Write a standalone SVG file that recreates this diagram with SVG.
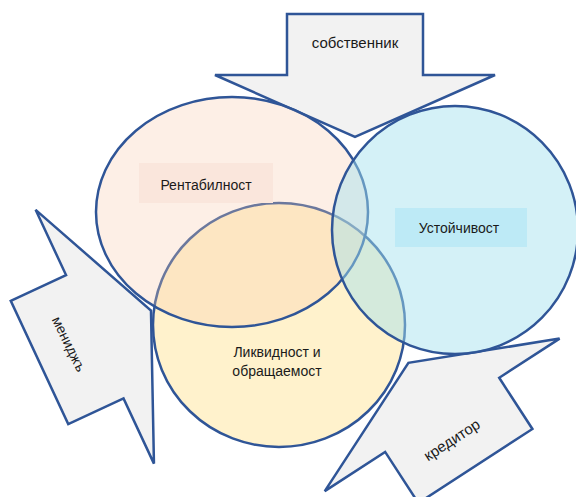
<svg xmlns="http://www.w3.org/2000/svg" width="576" height="497" viewBox="0 0 576 497">
<defs>
<style>
.arr{fill:#f2f2f2;stroke:#2f5597;stroke-width:2.5;stroke-linejoin:miter}
.ell{stroke:#2f5597;stroke-width:2.5}
.t{font-family:"Liberation Sans","Noto Sans",Arial,sans-serif;fill:#1a1a1a;text-anchor:middle}
</style>
<path id="blk" d="M0,-68 L61,-68 L61,-140 L123,0 L61,140 L61,68 L0,68 Z"/>
</defs>
<rect width="576" height="497" fill="#ffffff"/>
<g id="arrow-sobstvenik">
<use href="#blk" class="arr" transform="translate(355,14) rotate(90)"/>
<text class="t" x="355" y="48" font-size="15">собственник</text>
</g>
<g id="arrow-menidzh">
<use href="#blk" class="arr" transform="translate(39.5,362.5) rotate(-25)"/>
<text class="t" font-size="14" transform="translate(69,344) rotate(64)" y="5">мениджъ</text>
</g>
<g id="arrow-kreditor">
<use href="#blk" class="arr" transform="translate(475.4,466) rotate(-123)"/>
<text class="t" font-size="15" transform="translate(452,440) rotate(-33)" y="5">кредитор</text>
</g>
<g id="likvidnost">
<ellipse class="ell" cx="279" cy="325" rx="126" ry="122" fill="#fff2cc"/>
</g>
<g id="rentabilnost">
<ellipse class="ell" cx="232" cy="212" rx="136" ry="115" fill="#f8cbad" fill-opacity="0.3"/>
</g>
<g id="ustoychivost">
<ellipse class="ell" cx="455" cy="230" rx="123" ry="124" fill="#a4e1ee" fill-opacity="0.47"/>
</g>
<g id="label-rentabilnost">
<rect x="139" y="163" width="134" height="40" fill="#fae6dc"/>
<text class="t" x="206" y="190" font-size="14">Рентабилност</text>
</g>
<g id="label-ustoychivost">
<rect x="395" y="208" width="132" height="39" fill="#bdeaf6"/>
<text class="t" x="459" y="233" font-size="14">Устойчивост</text>
</g>
<g id="label-likvidnost">
<text class="t" x="277" y="357" font-size="14">Ликвидност и</text>
<text class="t" x="277" y="376" font-size="14">обращаемост</text>
</g>
</svg>
